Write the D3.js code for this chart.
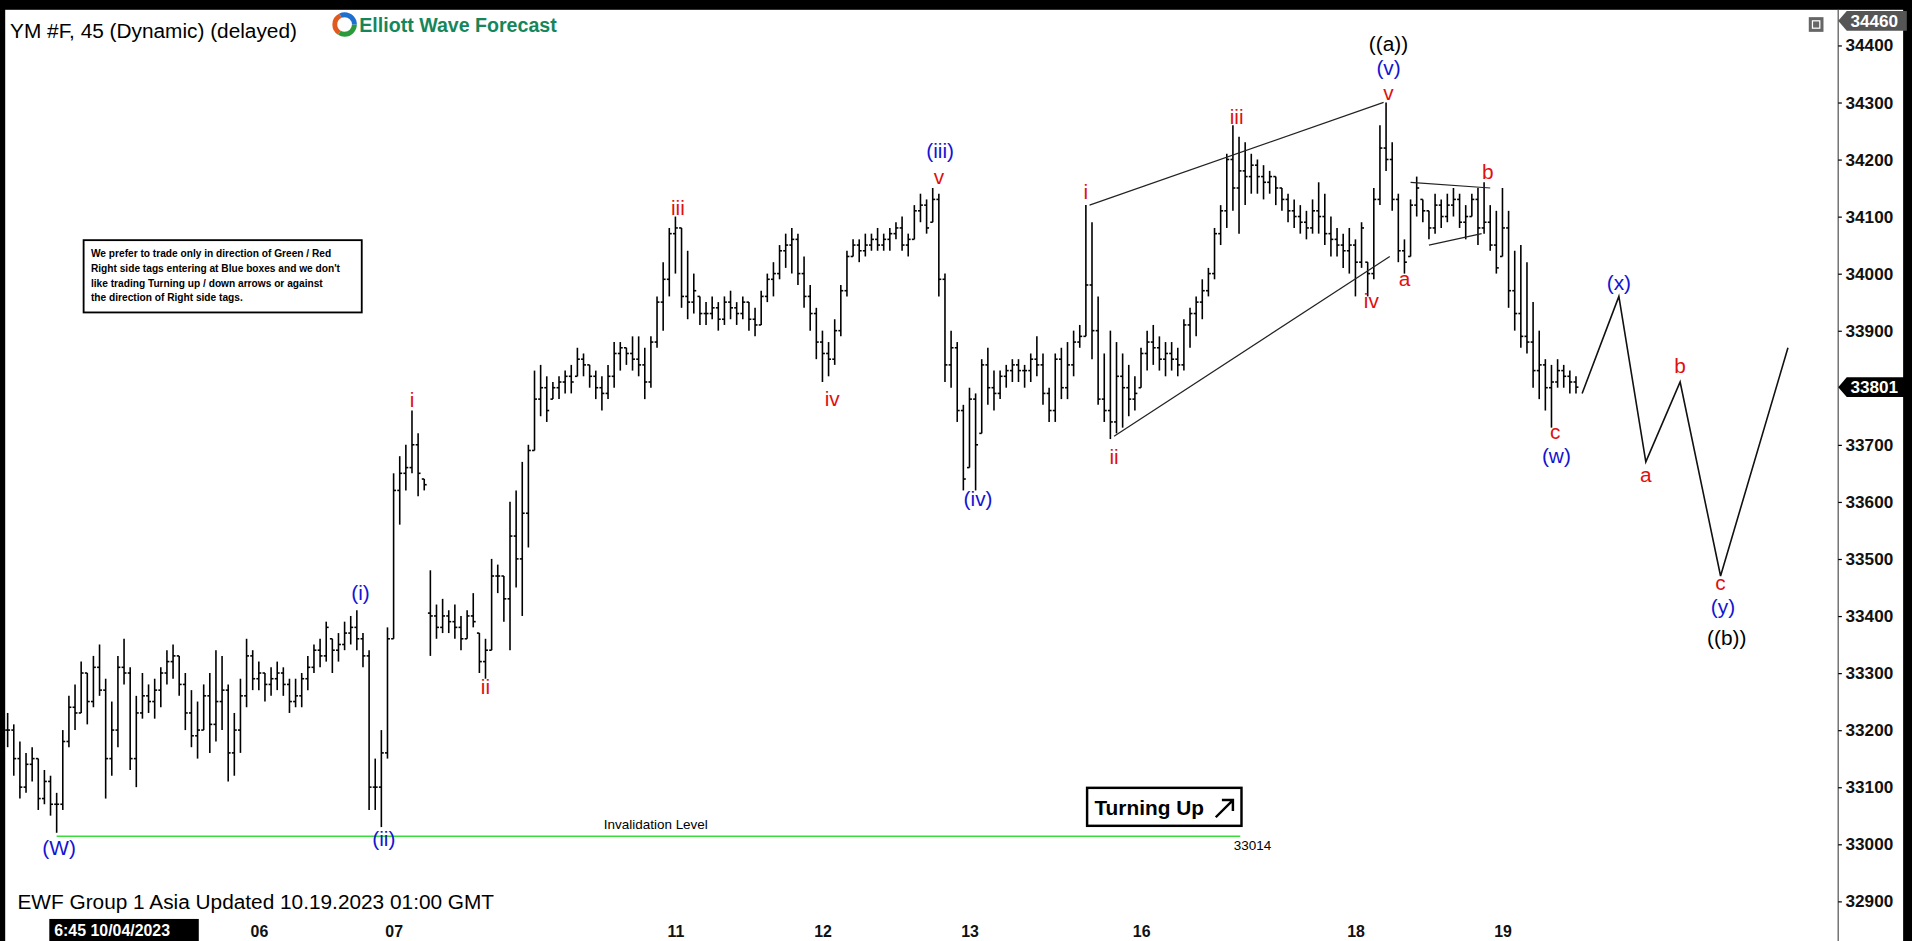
<!DOCTYPE html>
<html>
<head>
<meta charset="utf-8">
<script src="https://cdn.jsdelivr.net/npm/d3@7"></script>
<style>
  body { margin: 0; background: #000; overflow: hidden; }
  text { font-family: Arial, "Liberation Sans", sans-serif; }
</style>
</head>
<body>
<svg id="chart" width="1912" height="941" viewBox="0 0 1560 768"></svg>
<script>
// bar highs / lows / closes (45 min bars)
const highs = [33230,33210,33180,33160,33170,33150,33130,33120,33090,33200,33260,33280,33320,33300,33330,33350,33290,33250,33330,33360,33310,33260,
  33300,33280,33290,33310,33340,33350,33330,33300,33270,33250,33280,33300,33340,33330,33280,33230,33290,33360,33340,33320,33300,33310,33320,33310,33290,33290,33300,33330,33350,33360,33390,
  33360,33370,33390,33400,33410,33370,33340,33150,33200,33380,33650,33680,33700,33760,33720,33640,
  33480,33420,33430,33410,33420,33400,33410,33440,33370,33360,33500,33490,33470,33600,33620,33670,33700,33830,33840,33820,33810,
  33820,33830,33840,33870,33860,33840,33830,33820,33840,33880,33880,33870,33890,33890,33870,33890,33960,34020,34080,34100,
  34080,34040,34000,33960,33950,33960,33950,33960,33970,33950,33960,33950,33940,33970,34000,34020,34050,34070,34080,34070,34030,33980,33940,33900,33880,
  33920,33980,34040,34060,34060,34070,34070,34080,34070,34080,34090,34100,34070,34120,34140,34130,34150,34140,34000,33900,33880,33770,33800,33790,
  33850,33870,33830,33830,33840,33850,33850,33840,33860,33890,33860,33800,33860,33870,33880,33900,33910,34120,34090,33960,33860,33900,
  33880,33860,33840,33820,33870,33900,33910,33890,33880,33880,33870,33920,33940,33960,33990,34010,34080,34120,34210,34260,34240,
  34230,34210,34200,34190,34180,34170,34150,34140,34130,34120,34110,34130,34160,34140,34100,34080,34070,34080,34060,34090,34020,34150,34260,34300,
  34230,34140,34060,34130,34170,34130,34110,34140,34130,34140,34150,34140,34120,34140,34150,34160,34120,34110,34150,34110,34040,34050,34020,33950,
  33900,33850,33840,33850,33840,33830,33820];
const lows = [33170,33120,33080,33090,33110,33060,33070,33050,33020,33060,33170,33200,33230,33210,33240,33260,33080,33120,33170,33280,33130,33100,
  33220,33230,33220,33240,33280,33290,33260,33200,33170,33150,33200,33160,33180,33200,33110,33120,33160,33240,33270,33270,33250,33260,33270,33260,33230,33240,33240,33270,33300,33310,33320,
  33300,33320,33340,33350,33340,33310,33060,33060,33030,33150,33360,33560,33620,33650,33610,33620,
  33330,33360,33370,33370,33360,33340,33360,33380,33300,33290,33340,33440,33390,33340,33450,33400,33520,33690,33750,33740,33780,
  33780,33790,33790,33820,33820,33800,33780,33760,33780,33800,33830,33840,33830,33820,33780,33800,33870,33900,33960,34000,
  33940,33920,33930,33910,33910,33920,33900,33910,33920,33910,33920,33900,33890,33910,33950,33960,33990,34010,34000,33980,33940,33900,33850,33810,33820,
  33840,33890,33960,34030,34020,34030,34040,34040,34040,34040,34060,34040,34030,34060,34090,34070,34090,33960,33810,33800,33740,33620,33660,33620,
  33720,33770,33760,33780,33800,33810,33810,33800,33810,33820,33770,33740,33740,33780,33780,33820,33870,33890,33850,33770,33740,33710,
  33720,33730,33750,33760,33800,33830,33840,33830,33820,33830,33820,33830,33870,33890,33920,33960,33990,34050,34080,34110,34070,
  34120,34140,34140,34130,34140,34120,34110,34090,34080,34070,34060,34070,34070,34050,34030,34030,34010,34000,33960,34010,33960,33990,34120,34180,
  34110,34020,34000,34030,34100,34090,34060,34070,34080,34090,34100,34080,34060,34100,34050,34070,34040,34000,34030,33940,33900,33870,33860,33800,
  33780,33760,33730,33800,33800,33790,33790];
const closes = [33200,33150,33100,33140,33150,33080,33110,33070,33070,33180,33240,33230,33300,33250,33310,33270,33150,33200,33310,33300,33150,33230,
  33260,33250,33270,33300,33320,33330,33280,33230,33190,33200,33260,33210,33250,33270,33160,33200,33260,33330,33290,33300,33280,33290,33300,33280,33250,33260,33290,33310,33340,33330,33380,
  33340,33350,33370,33380,33360,33330,33100,33100,33160,33360,33620,33650,33660,33700,33650,33630,
  33400,33380,33400,33390,33380,33360,33400,33390,33320,33340,33470,33470,33430,33540,33500,33580,33690,33780,33800,33760,33800,
  33810,33820,33810,33850,33840,33820,33800,33790,33820,33860,33870,33860,33850,33840,33810,33880,33950,33990,34070,34080,
  33960,33950,33970,33930,33930,33940,33920,33950,33940,33930,33950,33920,33910,33960,33990,34000,34040,34050,34060,34000,33960,33930,33880,33860,33850,
  33900,33970,34030,34050,34040,34050,34060,34050,34060,34070,34080,34050,34060,34110,34120,34080,34130,33990,33840,33870,33760,33640,33780,33700,
  33840,33800,33790,33820,33830,33840,33830,33830,33850,33840,33790,33760,33850,33800,33840,33880,33890,33980,33900,33780,33760,33740,
  33820,33800,33780,33790,33860,33880,33870,33850,33860,33850,33840,33910,33930,33950,33970,34000,34070,34110,34200,34150,34180,
  34170,34190,34170,34160,34170,34150,34130,34110,34100,34090,34080,34110,34100,34070,34060,34050,34040,34050,34020,34080,34000,34130,34220,34200,
  34130,34040,34020,34120,34150,34110,34080,34120,34100,34120,34130,34090,34100,34130,34080,34090,34050,34010,34080,33970,33930,33890,33880,33830,
  33840,33800,33810,33830,33820,33810,33801];
// a missing session gap after bar 68
const gapAfter = 68;

// date labels on the time axis (bar index, label)
const dateIdx = [41, 63, 109, 133, 157, 185, 220, 244];
const dateText = ["06", "07", "11", "12", "13", "16", "18", "19"];
const priceTicks = [34400, 34300, 34200, 34100, 34000, 33900, 33700, 33600, 33500, 33400, 33300, 33200, 33100, 33000, 32900];

// wave labels: [bar index, price, text, colour]
const waveLabels = [
  [8.4, 32991, "(W)", "b"], [57.6, 33438, "(i)", "b"], [61.4, 33006, "(ii)", "b"],
  [66, 33775, "i", "r"], [78, 33273, "ii", "r"], [109.4, 34112, "iii", "r"], [134.6, 33777, "iv", "r"],
  [152.2, 34212, "(iii)", "b"], [152, 34166, "v", "r"], [158.4, 33603, "(iv)", "b"],
  [176, 34140, "i", "r"], [180.6, 33676, "ii", "r"], [200.6, 34271, "iii", "r"], [222.6, 33949, "iv", "r"],
  [225.4, 34400, "((a))", "k"], [225.4, 34357, "(v)", "b"], [225.4, 34314, "v", "r"],
  [228, 33988, "a", "r"], [241.6, 34175, "b", "r"], [252.6, 33719, "c", "r"], [252.8, 33678, "(w)", "b"],
  [263, 33981, "(x)", "b"], [267.4, 33644, "a", "r"], [273, 33835, "b", "r"],
  [279.6, 33455, "c", "r"], [280, 33413, "(y)", "b"], [280.6, 33358, "((b))", "k"]
];
// projected path [bar index, price]
const projIdx = [257, 263, 267.4, 273, 279.6, 290.6];
const projPrice = [33790, 33960, 33670, 33810, 33470, 33870];
// channel / triangle lines [i1, p1, i2, p2]
const trendLines = [
  [176.6, 34120, 224.6, 34300], [180.6, 33715, 225.6, 34030],
  [229, 34160, 242, 34150], [232, 34050, 240.6, 34070]
];
const invalidation = 33014;

const colors = { b: "#1414d2", r: "#e01010", k: "#000" };
const svg = d3.select("#chart");

svg.append("rect").attr("width", 1560).attr("height", 768).attr("fill", "#000");
svg.append("rect").attr("x", 4).attr("y", 8).attr("width", 1549).attr("height", 762).attr("fill", "#fff");

const x = d3.scaleLinear().domain([0, 257]).range([6, 1291]);
const y = d3.scaleLinear().domain([32869, 34458]).range([750, 10]);

// price axis
svg.append("line").attr("x1", 1500).attr("x2", 1500).attr("y1", 8).attr("y2", 770).attr("stroke", "#555");
const axisR = svg.append("g").attr("transform", "translate(1500,0)")
  .call(d3.axisRight(y).tickValues(priceTicks).tickSize(3).tickFormat(d3.format("d")));
axisR.select(".domain").remove();
axisR.selectAll("text").attr("font-size", 14).attr("font-weight", "bold").attr("fill", "#111");

// time axis
const axisB = svg.append("g").attr("transform", "translate(0,750)")
  .call(d3.axisBottom(x).tickValues(dateIdx).tickSize(0).tickFormat((d, i) => dateText[i]));
axisB.select(".domain").remove();
axisB.selectAll("text").attr("font-size", 13).attr("font-weight", "bold").attr("fill", "#111").attr("dy", "0.9em");
svg.append("rect").attr("x", 40).attr("y", 750).attr("width", 122).attr("height", 18).attr("fill", "#000");
svg.append("text").attr("x", 44).attr("y", 764).attr("font-size", 13).attr("font-weight", "bold").attr("fill", "#fff").text("6:45 10/04/2023");

// invalidation level
svg.append("line").attr("x1", x(8)).attr("x2", 1012).attr("y1", y(invalidation)).attr("y2", y(invalidation))
  .attr("stroke", "#3ddc3d").attr("stroke-width", 1.2);
svg.append("text").attr("x", 535).attr("y", y(invalidation) - 6).attr("text-anchor", "middle").attr("font-size", 11).text("Invalidation Level");
svg.append("text").attr("x", 1022).attr("y", y(invalidation) + 11).attr("text-anchor", "middle").attr("font-size", 11).text("33014");

// OHLC bars
const n = Math.min(highs.length, lows.length, closes.length);
const bars = svg.append("g").attr("stroke", "#000").attr("stroke-width", 1.3);
for (let i = 0; i < n; i++) {
  const cx = x(i);
  const open = (i === 0 || i === gapAfter + 1) ? (highs[i] + lows[i]) / 2 : closes[i - 1];
  const oc = Math.min(Math.max(open, lows[i]), highs[i]);
  bars.append("line").attr("x1", cx).attr("x2", cx).attr("y1", y(highs[i])).attr("y2", y(lows[i]));
  bars.append("line").attr("x1", cx - 2).attr("x2", cx).attr("y1", y(oc)).attr("y2", y(oc));
  bars.append("line").attr("x1", cx).attr("x2", cx + 2).attr("y1", y(closes[i])).attr("y2", y(closes[i]));
}

// trend lines
trendLines.forEach(t => {
  svg.append("line").attr("x1", x(t[0])).attr("y1", y(t[1])).attr("x2", x(t[2])).attr("y2", y(t[3]))
    .attr("stroke", "#222").attr("stroke-width", 1);
});
svg.append("path")
  .attr("d", d3.line().x((d, i) => x(projIdx[i])).y(d => y(d))(projPrice))
  .attr("fill", "none").attr("stroke", "#111").attr("stroke-width", 1.3);

// wave labels
waveLabels.forEach(l => {
  svg.append("text").attr("x", x(l[0])).attr("y", y(l[1])).attr("text-anchor", "middle")
    .attr("dominant-baseline", "middle").attr("font-size", 17).attr("fill", colors[l[3]]).text(l[2]);
});

// price tags
svg.append("path").attr("d", "M1500,17 L1507,9 L1556,9 L1556,25 L1507,25 Z").attr("fill", "#555");
svg.append("text").attr("x", 1510).attr("y", 22).attr("font-size", 14).attr("font-weight", "bold").attr("fill", "#fff").text("34460");
svg.append("path").attr("d", `M1500,${y(33801)} L1507,${y(33801) - 8} L1556,${y(33801) - 8} L1556,${y(33801) + 8} L1507,${y(33801) + 8} Z`).attr("fill", "#000");
svg.append("text").attr("x", 1510).attr("y", y(33801) + 5).attr("font-size", 14).attr("font-weight", "bold").attr("fill", "#fff").text("33801");
svg.append("rect").attr("x", 1476).attr("y", 14).attr("width", 12).attr("height", 12).attr("fill", "#666");
svg.append("rect").attr("x", 1479).attr("y", 17).attr("width", 6).attr("height", 6).attr("fill", "none").attr("stroke", "#fff").attr("stroke-width", 1);

// title and logo
svg.append("text").attr("x", 8).attr("y", 31).attr("font-size", 17).text("YM #F, 45 (Dynamic) (delayed)");
svg.append("rect").attr("x", 268).attr("y", 9).attr("width", 190).attr("height", 22).attr("fill", "#fff");
const logo = svg.append("g").attr("transform", "translate(281,20)");
logo.append("circle").attr("r", 8).attr("fill", "none").attr("stroke", "#2a9a3a").attr("stroke-width", 4).attr("stroke-dasharray", "17 33");
logo.append("circle").attr("r", 8).attr("fill", "none").attr("stroke", "#e05a20").attr("stroke-width", 4).attr("stroke-dasharray", "0 17 17 16");
logo.append("circle").attr("r", 8).attr("fill", "none").attr("stroke", "#1d6fd0").attr("stroke-width", 4).attr("stroke-dasharray", "0 34 16 0");
svg.append("text").attr("x", 293).attr("y", 26).attr("font-size", 16).attr("font-weight", "bold").attr("fill", "#16865a").text("Elliott Wave Forecast");

// notice box
svg.append("rect").attr("x", 68).attr("y", 196).attr("width", 227).attr("height", 59).attr("fill", "#fff").attr("stroke", "#000").attr("stroke-width", 1.5);
["We prefer to trade only in direction of Green / Red", "Right side tags entering at Blue boxes and we don't",
 "like trading Turning up / down arrows or against", "the direction of Right side tags."].forEach((t, i) => {
  svg.append("text").attr("x", 74).attr("y", 210 + i * 12).attr("font-size", 8.3).attr("font-weight", "bold").text(t);
});

// turning up box
svg.append("rect").attr("x", 887).attr("y", 643).attr("width", 126).attr("height", 31).attr("fill", "#fff").attr("stroke", "#000").attr("stroke-width", 2);
svg.append("text").attr("x", 893).attr("y", 665).attr("font-size", 17).attr("font-weight", "bold").text("Turning Up");
svg.append("path").attr("d", "M992,667 L1006,653 M997,653 L1006,653 L1006,662").attr("stroke", "#000").attr("stroke-width", 2).attr("fill", "none");

// footer
svg.append("text").attr("x", 14).attr("y", 742).attr("font-size", 17).text("EWF Group 1 Asia Updated 10.19.2023 01:00 GMT");
</script>
</body>
</html>
